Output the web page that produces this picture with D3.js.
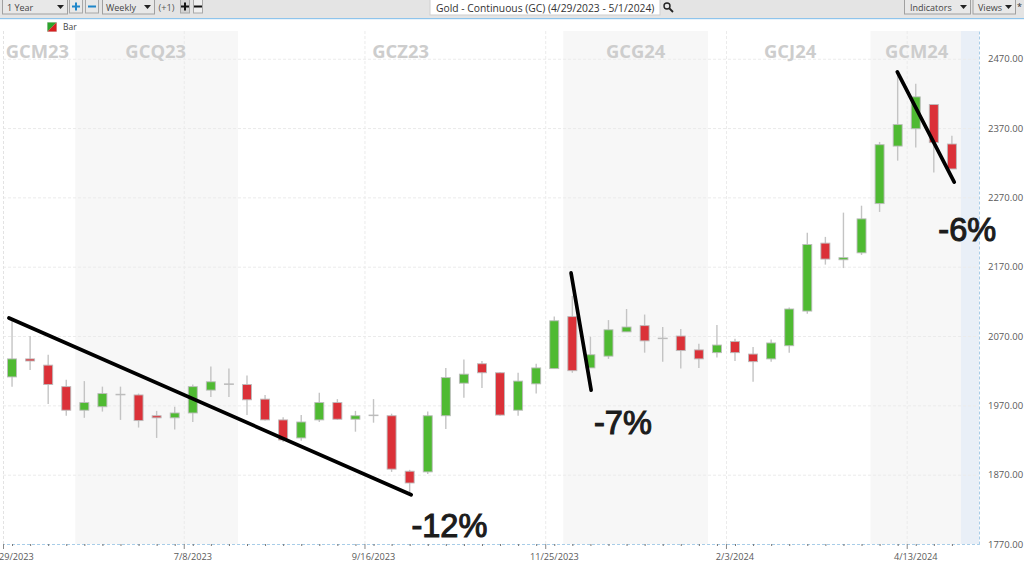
<!DOCTYPE html>
<html><head><meta charset="utf-8">
<script src="https://cdn.jsdelivr.net/npm/d3@7"></script>
<style>
html,body{margin:0;padding:0;background:#fff;overflow:hidden}
svg{display:block}
text{font-family:"Open Sans","Noto Sans",sans-serif}
</style></head><body><svg id="c" width="1024" height="567"></svg>
<script>
// Weekly OHLC values, one per candle (oldest first)
const opens =[2011,2037,2028,1997,1963,1968,1986,1985,1955,1952,1959,1992,2001,2000,1979,1949,1923,1949,1974,1950,1956,1955,1875,1874,1955,2002,2030,2017,1963,2001,2023,2098,2024,2041,2076,2085,2067,2070,2050,2046,2062,2044,2037,2056,2106,2204,2180,2190,2261,2344,2369,2404,2347];
const highs =[2096,2070,2043,2007,2005,1997,1997,1987,1962,1968,2000,2026,2023,2013,1985,1953,1956,1988,1979,1962,1979,1958,1877,1961,2024,2036,2034,2018,2017,2030,2098,2128,2069,2093,2109,2101,2083,2080,2059,2086,2066,2054,2065,2111,2219,2213,2248,2258,2350,2450,2434,2404,2359];
const lows  =[1997,2021,1972,1955,1952,1961,1949,1938,1923,1935,1946,1982,1982,1956,1948,1917,1919,1946,1949,1932,1945,1874,1844,1871,1936,1981,1995,1955,1955,1987,2023,2017,2024,2037,2076,2046,2033,2023,2024,2039,2034,2004,2033,2046,2102,2173,2168,2187,2249,2323,2342,2306,2311];
const closes=[2037,2034,2000,1963,1974,1987,1986,1948,1952,1959,1997,2004,2001,1978,1949,1920,1946,1974,1950,1955,1956,1878,1858,1955,2010,2015,2017,1956,2005,2024,2092,2020,2043,2079,2083,2063,2067,2049,2037,2057,2046,2033,2060,2109,2202,2181,2183,2239,2346,2375,2415,2349,2311];

const priceTicks=[1770,1870,1970,2070,2170,2270,2370,2470];
const dateWeeks=[0,10,20,30,40,50];
const dateLabels=["4/29/2023","7/8/2023","9/16/2023","11/25/2023","2/3/2024","4/13/2024"];

// Contract periods in weeks from the start
const contractNames=["GCM23","GCQ23","GCZ23","GCG24","GCJ24","GCM24"];
const contractCentres=[1.9,8.45,22,35,43.55,50.55];
const shadedStart=[4,31,48];
const shadedEnd=[13,39,53];

// Hand-drawn annotations: [week, price] ends, and text anchors
const trendStart=[[-0.17,2096],[30.93,2161],[48.98,2451]];
const trendEnd=[[22.08,1841],[32.04,1992],[52.13,2292]];
const noteTexts=["-12%","-7%","-6%"];
const noteWeek=[22.1,32.2,51.25];
const notePrice=[1780,1929,2207];

const svg=d3.select("#c");
const x=d3.scaleLinear().domain([0,54]).range([3,979]);
const y=d3.scaleLinear().domain([1770,2510]).range([544,31]);
const centre=i=>x(i+0.5);
const LAB="#5a5a5a";

// shaded
svg.append("g").selectAll("rect").data(shadedStart).join("rect")
 .attr("x",d=>x(d)).attr("width",(d,i)=>x(shadedEnd[i])-x(d))
 .attr("y",y(2510)).attr("height",y(1770)-y(2510)).attr("fill","#f7f7f7");
svg.append("rect").attr("x",x(53)).attr("width",x(54)-x(53))
 .attr("y",y(2510)).attr("height",y(1770)-y(2510)).attr("fill","#e9eff7");

// grid
const grid=svg.append("g").attr("stroke","#ebebeb").attr("stroke-dasharray","3,2");
grid.selectAll("line.h").data(priceTicks.slice(1)).join("line").attr("class","h")
 .attr("x1",x(0)).attr("x2",x(54)).attr("y1",d=>y(d)+.5).attr("y2",d=>y(d)+.5);
grid.selectAll("line.v").data(dateWeeks).join("line").attr("class","v")
 .attr("x1",d=>x(d)+.5).attr("x2",d=>x(d)+.5).attr("y1",y(2510)).attr("y2",y(1770));

// contract names
svg.append("g").selectAll("text").data(contractNames).join("text")
 .attr("x",(d,i)=>x(contractCentres[i])).attr("y",58).attr("text-anchor","middle")
 .attr("font-size",18.4).attr("font-weight",700).attr("fill","#cdcdcd")
 .style("font-family","'Open Sans',sans-serif").text(d=>d);

// axes
const ax=d3.axisBottom(d3.scaleLinear().domain([0,54]).range([3,979]))
 .tickValues(d3.range(0,53).map(d=>d+0.5)).tickSize(2)
 .tickFormat(()=> "");
const gx=svg.append("g").attr("transform",`translate(0,${y(1770)})`).call(ax);
gx.select(".domain").attr("stroke","#a8cde8").attr("stroke-dasharray","3,2");
gx.selectAll(".tick line").attr("stroke","#777");
svg.append("g").selectAll("line").data(dateWeeks).join("line")
 .attr("x1",d=>x(d)+.5).attr("x2",d=>x(d)+.5).attr("y1",y(1770)).attr("y2",y(1770)+5).attr("stroke","#888");
svg.append("g").selectAll("text").data(dateLabels).join("text")
 .attr("x",(d,i)=>centre(dateWeeks[i])).attr("y",559.5).attr("text-anchor","middle")
 .attr("font-size",9.2).attr("fill",LAB).text(d=>d);

const ay=d3.axisRight(y).tickValues(priceTicks).tickSize(0).tickPadding(9).tickFormat(d3.format(".2f"));
const gy=svg.append("g").attr("transform",`translate(${x(54)},0)`).call(ay);
gy.select(".domain").attr("stroke","#a8cde8").attr("stroke-dasharray","3,2");
gy.selectAll("text").attr("font-size",9.5).attr("fill",LAB).style("font-family","'Open Sans',sans-serif");
svg.append("line").attr("x1",x(0)+.5).attr("x2",x(0)+.5).attr("y1",y(2510)).attr("y2",y(1770))
 .attr("stroke","#e3e3e3").attr("stroke-dasharray","3,2");

// candles
const g=svg.append("g");
const colour=i=>closes[i]>opens[i]?"#4fba32":closes[i]<opens[i]?"#db3138":"#bdbdbd";
g.selectAll("line.w").data(opens).join("line").attr("class","w")
 .attr("x1",(d,i)=>centre(i)).attr("x2",(d,i)=>centre(i))
 .attr("y1",(d,i)=>y(highs[i])).attr("y2",(d,i)=>y(lows[i]))
 .attr("stroke","#c4c4c4").attr("stroke-width",1.4);
g.selectAll("rect").data(opens).join("rect")
 .attr("x",(d,i)=>centre(i)-4.5).attr("width",9)
 .attr("y",(d,i)=>Math.min(y(opens[i]),y(closes[i])))
 .attr("height",(d,i)=>Math.max(0.6,Math.abs(y(opens[i])-y(closes[i]))))
 .attr("fill",(d,i)=>colour(i)).attr("stroke","#bcbcbc").attr("stroke-width",.9);

// trend lines
svg.append("g").selectAll("line").data(trendStart).join("line")
 .attr("x1",d=>centre(d[0])).attr("y1",d=>y(d[1]))
 .attr("x2",(d,i)=>centre(trendEnd[i][0])).attr("y2",(d,i)=>y(trendEnd[i][1]))
 .attr("stroke","#000").attr("stroke-width",3.7).attr("stroke-linecap","round");
svg.append("g").selectAll("text").data(noteTexts).join("text")
 .attr("x",(d,i)=>centre(noteWeek[i])).attr("y",(d,i)=>y(notePrice[i]))
 .attr("font-size",32.5).attr("fill","#1c1c1c").attr("stroke","#1c1c1c").attr("stroke-width",1.1)
 .style("font-family","'Liberation Sans',Arial,sans-serif").text(d=>d);

// toolbar
const tb=svg.append("g");
tb.append("rect").attr("width",1024).attr("height",18).attr("fill","#e4e4e4");
tb.append("rect").attr("y",18).attr("width",1024).attr("height",1.2).attr("fill","#8ec4ec");
function dropdown(x0,x1,label,tx){
 tb.append("rect").attr("x",x0+.5).attr("y",-1).attr("width",x1-x0).attr("height",15).attr("fill","#e8e8e8").attr("stroke","#a0a0a0");
 tb.append("text").attr("x",tx).attr("y",10.5).attr("font-size",9).attr("fill","#444").text(label);
 tb.append("path").attr("d",`M${x1-10},5h7l-3.5,4z`).attr("fill","#222");
}
dropdown(2,67,"1 Year",7);
dropdown(102,154,"Weekly",106);
dropdown(904,970,"Indicators",910);
dropdown(972.5,1015,"Views",978);
function btn(x0,w,sym,col,bg){
 tb.append("rect").attr("x",x0+.5).attr("y",-1).attr("width",w).attr("height",14).attr("fill",bg).attr("stroke","#a8a8a8");
 const cx=x0+w/2+.5, cy=6.5;
 tb.append("path").attr("d",sym=="+"?`M${cx-4},${cy}h8M${cx},${cy-4}v8`:`M${cx-4},${cy}h8`).attr("stroke",col).attr("stroke-width",2);
}
btn(69,13,"+","#1f86c9","#e8e8e8");
btn(85,13,"-","#1f86c9","#e8e8e8");
btn(180,9,"+","#111","#d4d4d4");
btn(193,9,"-","#111","#efefef");
tb.append("text").attr("x",158.5).attr("y",10.5).attr("font-size",9.2).attr("fill","#555").text("(+1)");
tb.append("rect").attr("x",430).attr("y",-1).attr("width",230).attr("height",16).attr("fill","#fff").attr("stroke","#cfcfcf");
tb.append("text").attr("x",436).attr("y",12).attr("font-size",10.3).attr("fill","#333").text("Gold - Continuous (GC) (4/29/2023 - 5/1/2024)");
tb.append("circle").attr("cx",667).attr("cy",6).attr("r",3).attr("fill","none").attr("stroke","#222").attr("stroke-width",1.4);
tb.append("line").attr("x1",669.5).attr("y1",8.5).attr("x2",673).attr("y2",12).attr("stroke","#222").attr("stroke-width",1.8);
tb.append("text").attr("x",1017).attr("y",10).attr("font-size",9).attr("fill","#333").text("*");

// legend
svg.append("rect").attr("x",47).attr("y",22).attr("width",10).attr("height",10).attr("fill","#d9d9d9");
svg.append("path").attr("d","M47.5,31.5V22.5h9z").attr("fill","#2ca52c");
svg.append("path").attr("d","M56.5,22.5v9h-9z").attr("fill","#d81f1f");
svg.append("text").attr("x",63).attr("y",30).attr("font-size",8.5).attr("fill","#444").text("Bar");
</script></body></html>
